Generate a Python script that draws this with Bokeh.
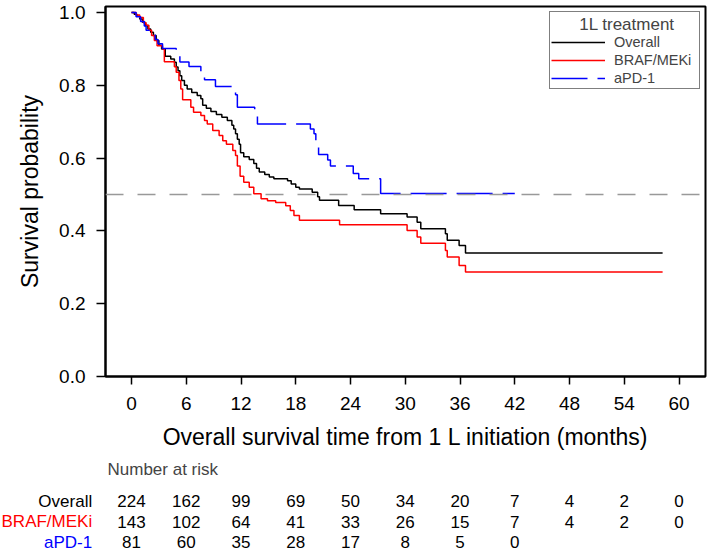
from bokeh.plotting import figure
from bokeh.layouts import column, row
from bokeh.models import (Range1d, FixedTicker, PrintfTickFormatter, Span, Legend, LegendItem,
                          LabelSet, Label, ColumnDataSource)
from bokeh.core.properties import value
from bokeh.embed import file_html
from bokeh.resources import INLINE

# ---------------- data ----------------
overall_t = [0, 0.3, 0.6, 0.9, 1.2, 1.5, 1.8, 2.1, 2.4, 2.7, 3.0, 3.3, 3.7, 4.3, 4.7, 4.9, 5.1, 5.3, 5.5, 5.8,
             6.1, 6.6, 7.2, 7.6, 7.8, 8.2, 8.7, 9.3, 9.9, 10.5, 11.0, 11.2, 11.4, 11.6, 11.8, 11.95, 12.3, 12.9,
             13.4, 13.7, 14.0, 14.6, 15.1, 15.6, 17.1, 17.5, 18.0, 18.4, 19.8, 20.4, 20.6, 22.7, 24.4, 27.3,
             30.2, 31.3, 31.7, 34.4, 34.6, 35.9, 36.6, 58.2]
overall_s = [1.0, 0.995, 0.99, 0.982, 0.973, 0.964, 0.955, 0.946, 0.937, 0.923, 0.91, 0.90, 0.88, 0.872, 0.863,
             0.85, 0.84, 0.826, 0.813, 0.80, 0.79, 0.78, 0.772, 0.763, 0.745, 0.737, 0.728, 0.72, 0.712, 0.703,
             0.69, 0.68, 0.667, 0.652, 0.638, 0.615, 0.604, 0.596, 0.585, 0.572, 0.562, 0.555, 0.548, 0.543,
             0.538, 0.529, 0.52, 0.515, 0.506, 0.494, 0.484, 0.470, 0.458, 0.447, 0.438, 0.424, 0.406, 0.392,
             0.374, 0.36, 0.339, 0.339]

braf_t = [0, 0.5, 0.9, 1.3, 1.6, 1.9, 2.2, 2.5, 2.8, 3.4, 3.6, 4.7, 4.9, 5.2, 5.4, 5.6, 6.5, 6.8, 7.6, 8.0,
          8.3, 8.9, 9.6, 10.0, 10.4, 11.1, 11.4, 11.6, 11.9, 12.3, 12.9, 13.4, 14.2, 14.9, 15.8, 16.9, 17.4,
          17.8, 18.4, 22.8, 30.2, 31.3, 31.7, 34.4, 34.6, 35.9, 36.6, 58.2]
braf_s = [1.0, 0.993, 0.986, 0.972, 0.965, 0.951, 0.937, 0.923, 0.909, 0.900, 0.865, 0.851, 0.836, 0.813,
          0.790, 0.760, 0.740, 0.726, 0.717, 0.703, 0.694, 0.676, 0.662, 0.648, 0.638, 0.621, 0.607, 0.578,
          0.550, 0.534, 0.520, 0.502, 0.488, 0.483, 0.478, 0.469, 0.456, 0.442, 0.429, 0.417, 0.401, 0.383,
          0.366, 0.346, 0.328, 0.305, 0.287, 0.287]

apd1_t = [0, 0.5, 1.0, 1.4, 1.6, 2.0, 2.6, 2.9, 3.4, 4.9, 5.3, 6.3, 7.6, 8.0, 9.2, 11.4, 11.6, 13.5, 13.8,
          19.6, 20.0, 20.2, 20.5, 21.5, 21.8, 24.3, 24.9, 27.3, 42.0]
apd1_s = [1.0, 0.988, 0.975, 0.963, 0.951, 0.938, 0.926, 0.914, 0.901, 0.889, 0.864, 0.852, 0.827, 0.815,
          0.797, 0.774, 0.740, 0.717, 0.694, 0.680, 0.667, 0.640, 0.610, 0.595, 0.578, 0.558, 0.543, 0.503,
          0.503]

x_ticks = [0, 6, 12, 18, 24, 30, 36, 42, 48, 54, 60]
y_ticks = [0.0, 0.2, 0.4, 0.6, 0.8, 1.0]
median_level = 0.5

risk_times = [0, 6, 12, 18, 24, 30, 36, 42, 48, 54, 60]
risk_overall = [224, 162, 99, 69, 50, 34, 20, 7, 4, 2, 0]
risk_braf = [143, 102, 64, 41, 33, 26, 15, 7, 4, 2, 0]
risk_apd1_times = [0, 6, 12, 18, 24, 30, 36, 42]
risk_apd1 = [81, 60, 35, 28, 17, 8, 5, 0]

series_names = ["Overall", "BRAF/MEKi", "aPD-1"]
series_colors = ["black", "#FF0000", "#0000FF"]
legend_title = "1L treatment"
risk_title = "Number at risk"

FONT = "Liberation Sans"
X_START, X_END = -2.85, 62.9
PX_PER_MONTH = 600 / (X_END - X_START)

# ---------------- survival figure ----------------
p = figure(width=709, height=456, output_backend="svg", toolbar_location=None,
           x_range=Range1d(X_START, X_END), y_range=Range1d(0, 1.0165),
           min_border_left=105, min_border_right=4, min_border_top=6, min_border_bottom=80)
p.xgrid.visible = False
p.ygrid.visible = False
p.outline_line_color = "black"
p.outline_line_width = 2
p.background_fill_color = "white"
p.border_fill_color = "white"

for ax in (p.xaxis[0], p.yaxis[0]):
    ax.axis_line_color = "black"
    ax.axis_line_width = 2
    ax.major_tick_line_color = "black"
    ax.major_tick_line_width = 1.5
    ax.major_tick_in = 0
    ax.minor_tick_line_color = None
    ax.major_label_text_font = FONT
    ax.major_label_text_font_size = "19px"
    ax.major_label_text_color = "black"
    ax.axis_label_text_font = FONT
    ax.axis_label_text_font_size = "23px"
    ax.axis_label_text_font_style = "normal"
    ax.axis_label_text_color = "black"

p.xaxis.ticker = FixedTicker(ticks=x_ticks)
p.xaxis.major_tick_out = 8
p.xaxis.major_label_standoff = 12
p.xaxis.axis_label = "Overall survival time from 1 L initiation (months)"
p.xaxis.axis_label_standoff = 11

p.yaxis.ticker = FixedTicker(ticks=y_ticks)
p.yaxis.formatter = PrintfTickFormatter(format="%.1f")
p.yaxis.major_tick_out = 9
p.yaxis.major_label_standoff = 11
p.yaxis.axis_label = "Survival probability"
p.yaxis.axis_label_standoff = 13

p.add_layout(Span(location=median_level, dimension="width", line_color="#999999",
                  line_width=1.5, line_dash="18 14"))

r_all = p.step(overall_t, overall_s, mode="after", line_color=series_colors[0], line_width=1.5)
r_braf = p.step(braf_t, braf_s, mode="after", line_color=series_colors[1], line_width=1.5)
r_apd = p.step(apd1_t, apd1_s, mode="after", line_color=series_colors[2], line_width=1.5,
               line_dash="36 10")

# centred legend title (the legend below keeps an empty title row for it)
p.add_layout(Label(x=521.5, y=352, x_units="screen", y_units="screen", text=legend_title,
                   text_font=FONT, text_font_size="17px", text_align="center",
                   text_baseline="middle"))

legend = Legend(items=[LegendItem(label=series_names[0], renderers=[r_all]),
                       LegendItem(label=series_names[1], renderers=[r_braf]),
                       LegendItem(label=series_names[2], renderers=[r_apd])],
                title=" ", location="top_right")
legend.title_text_font = FONT
legend.title_text_font_size = "17px"
legend.title_text_font_style = "normal"
legend.title_standoff = 0
legend.label_text_font = FONT
legend.label_text_font_size = "14.5px"
legend.glyph_width = 54
legend.glyph_height = 18
legend.label_height = 18
legend.label_width = 84
legend.label_standoff = 9
legend.spacing = 0
legend.padding = 1
legend.margin = 5
legend.border_line_color = "black"
legend.border_line_width = 1.5
legend.background_fill_alpha = 0.0
p.add_layout(legend)

# ---------------- number at risk table ----------------
# same months-to-pixels scale as the survival plot; frame starts at the canvas left edge
t_left = X_END - 705 / PX_PER_MONTH
q = figure(width=709, height=98, output_backend="svg", toolbar_location=None,
           x_range=Range1d(t_left, X_END), y_range=Range1d(0, 98),
           min_border_left=0, min_border_right=4, min_border_top=0, min_border_bottom=0,
           x_axis_location=None, y_axis_location=None)
q.xgrid.visible = False
q.ygrid.visible = False
q.outline_line_color = None
q.background_fill_color = "white"
q.border_fill_color = "white"

row_y = [53.3, 33, 12.3]
q.add_layout(Label(x=107, y=85, x_units="screen", y_units="screen", text=risk_title,
                   text_font=FONT, text_font_size="17px", text_baseline="middle", text_align="left"))
for name, color, yy in zip(series_names, series_colors, row_y):
    q.add_layout(Label(x=91.7, y=yy, x_units="screen", y_units="screen", text=name,
                       text_font=FONT, text_font_size="17px", text_color=color,
                       text_baseline="middle", text_align="right"))

for times, counts, yy in ((risk_times, risk_overall, row_y[0]),
                          (risk_times, risk_braf, row_y[1]),
                          (risk_apd1_times, risk_apd1, row_y[2])):
    src = ColumnDataSource(dict(x=times, text=[str(c) for c in counts]))
    q.add_layout(LabelSet(x="x", y=yy, y_units="screen", text="text", source=src,
                          text_font=value(FONT), text_font_size="17px", text_color="black",
                          text_align="center", text_baseline="middle"))

layout = column(p, row(q, spacing=0), spacing=0)
open("out.html", "w").write(file_html(layout, INLINE))
